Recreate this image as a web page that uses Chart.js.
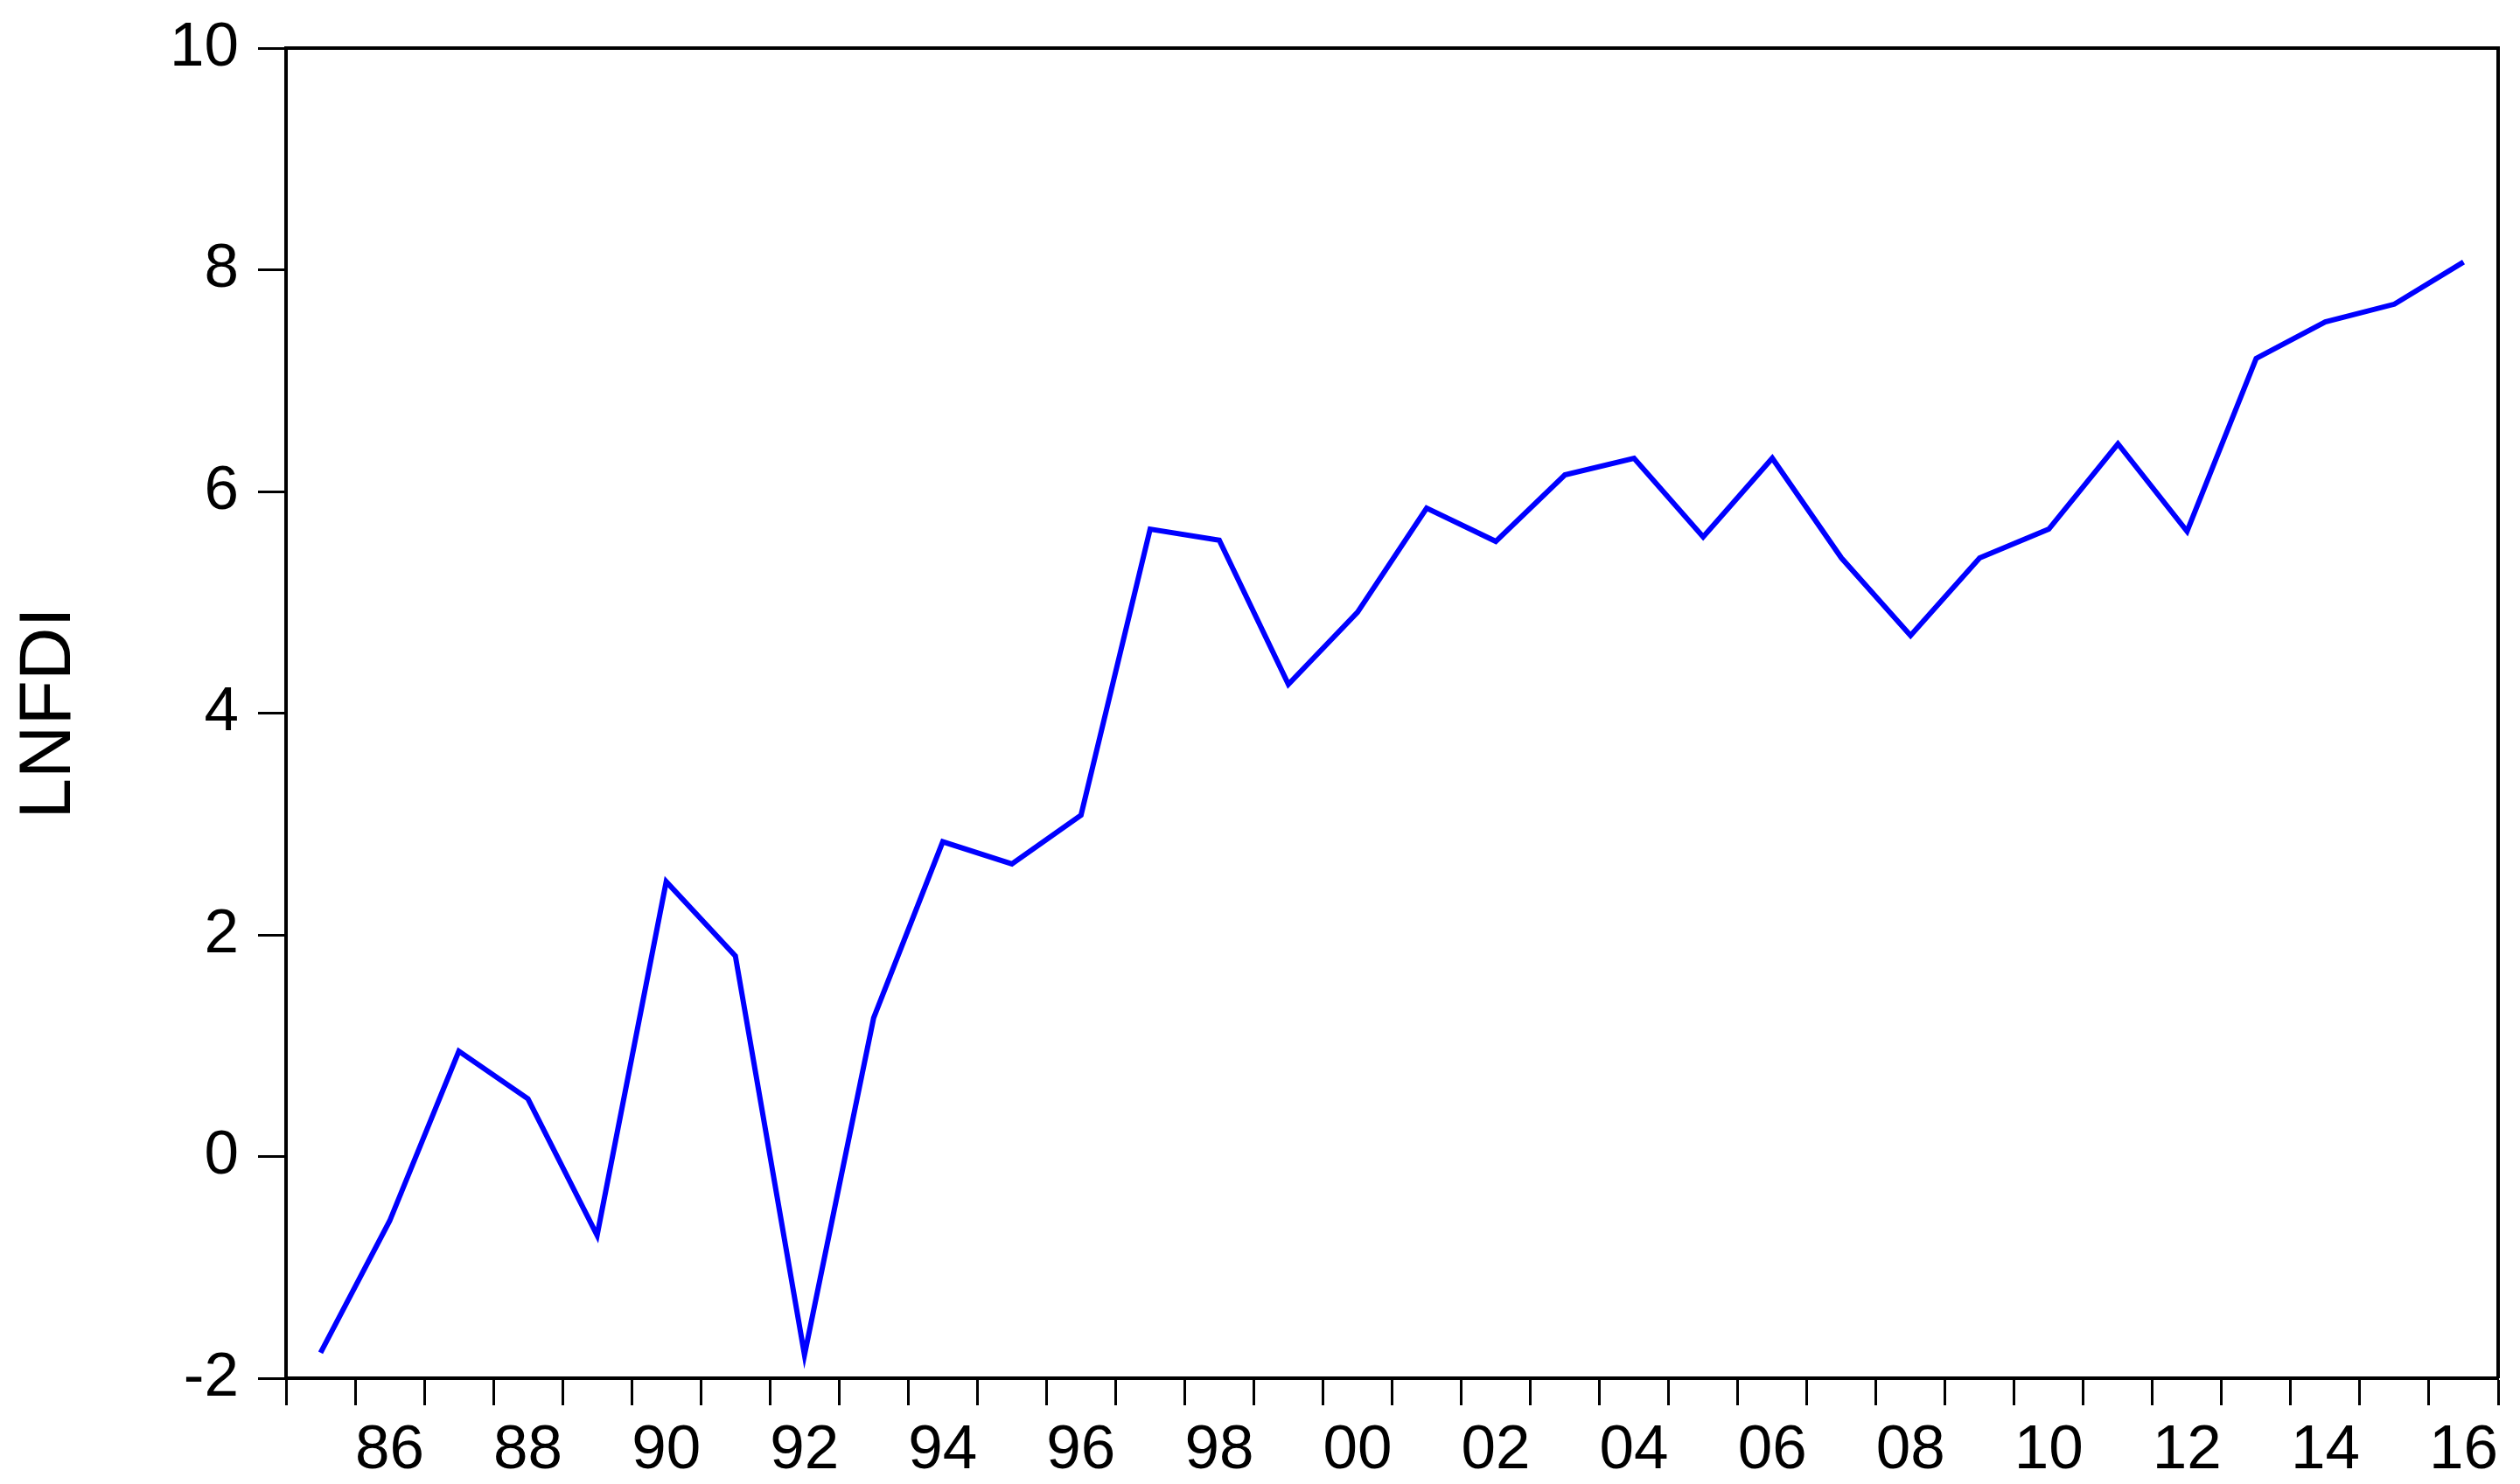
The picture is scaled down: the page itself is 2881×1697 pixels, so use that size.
<!DOCTYPE html>
<html>
<head>
<meta charset="utf-8">
<script src="https://cdn.jsdelivr.net/npm/chart.js@4/dist/chart.umd.min.js"></script>
<style>
  html, body { margin: 0; padding: 0; background: #ffffff; }
  #wrap { width: 2881px; height: 1697px; }
</style>
</head>
<body>
<div id="wrap"><canvas id="c" width="2881" height="1697"></canvas></div>
<script>
// ---- data ----
const years = ['1985','1986','1987','1988','1989','1990','1991','1992','1993','1994','1995','1996',
               '1997','1998','1999','2000','2001','2002','2003','2004','2005','2006','2007','2008',
               '2009','2010','2011','2012','2013','2014','2015','2016'];
const lnfdi = [-1.77, -0.58, 0.95, 0.52, -0.71, 2.48, 1.81, -1.79, 1.25, 2.84, 2.64, 3.08,
               5.66, 5.56, 4.26, 4.91, 5.85, 5.55, 6.15, 6.30, 5.59, 6.30, 5.40, 4.70,
               5.40, 5.66, 6.43, 5.64, 7.20, 7.53, 7.69, 8.07];
const yTicks = [-2, 0, 2, 4, 6, 8, 10];
const seriesName = 'LNFDI';

const frame = {
  id: 'frame',
  afterDraw(chart) {
    const {ctx, chartArea: a} = chart;
    ctx.save();
    ctx.strokeStyle = '#000';
    ctx.lineWidth = 4;
    ctx.beginPath();
    ctx.moveTo(a.left - 2, a.top);
    ctx.lineTo(a.right, a.top);
    ctx.lineTo(a.right, a.bottom);
    ctx.stroke();
    ctx.restore();
  }
};

new Chart(document.getElementById('c'), {
  type: 'line',
  data: {
    labels: years,
    datasets: [{
      label: seriesName,
      data: lnfdi,
      borderColor: '#0000FF',
      borderWidth: 6,
      pointRadius: 0,
      tension: 0,
      fill: false
    }]
  },
  options: {
    responsive: false,
    devicePixelRatio: 1,
    animation: false,
    layout: { padding: { top: 55, right: 25, left: 0, bottom: 0 } },
    plugins: { legend: { display: false }, tooltip: { enabled: false } },
    scales: {
      x: {
        type: 'category',
        offset: true,
        afterFit(s) { s.height = 121; },
        grid: {
          offset: true,
          drawOnChartArea: false,
          drawTicks: true,
          tickLength: 31,
          tickWidth: 3,
          tickColor: '#000'
        },
        border: { display: true, color: '#000', width: 4 },
        ticks: {
          autoSkip: false,
          maxRotation: 0,
          minRotation: 0,
          padding: 10,
          color: '#000',
          font: { family: 'Liberation Sans, Arial, sans-serif', size: 71 },
          callback(v, i) {
            const y = parseInt(years[i], 10);
            return (y % 2 === 0) ? years[i].slice(2) : '';
          }
        }
      },
      y: {
        min: -2,
        max: 10,
        afterFit(s) { s.width = 327; s.paddingTop = 0; s.paddingBottom = 0; },
        afterBuildTicks(s) { s.ticks = yTicks.map(v => ({ value: v })); },
        grid: {
          drawOnChartArea: false,
          drawTicks: true,
          tickLength: 32,
          tickWidth: 3,
          tickColor: '#000'
        },
        border: { display: true, color: '#000', width: 4 },
        ticks: {
          padding: 22,
          color: '#000',
          font: { family: 'Liberation Sans, Arial, sans-serif', size: 71 }
        },
        title: {
          display: true,
          text: seriesName,
          color: '#000',
          padding: { top: 6, bottom: 0 },
          font: { family: 'Liberation Sans, Arial, sans-serif', size: 84 }
        }
      }
    }
  },
  plugins: [frame]
});
</script>
</body>
</html>
